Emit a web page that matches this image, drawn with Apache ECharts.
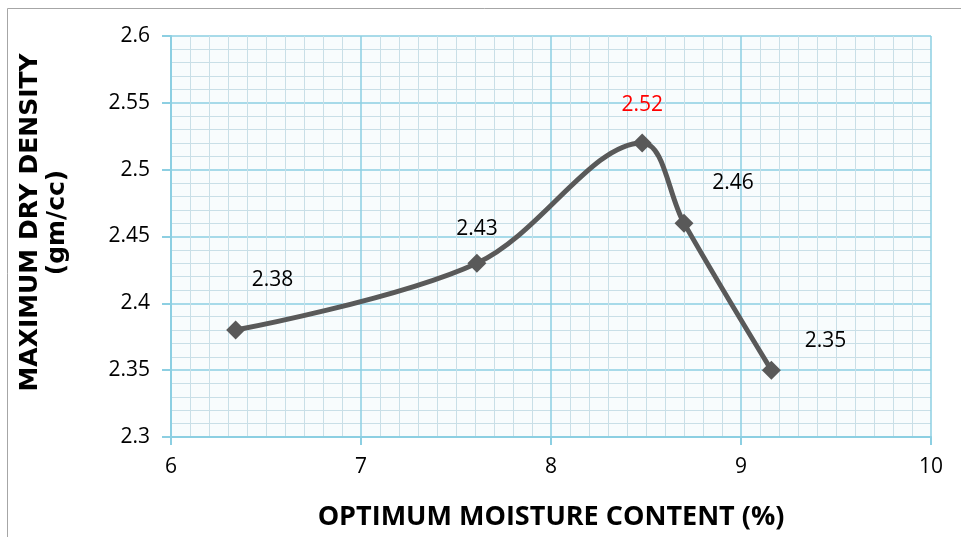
<!DOCTYPE html>
<html>
<head>
<meta charset="utf-8">
<script src="https://cdn.jsdelivr.net/npm/echarts@6/dist/echarts.min.js"></script>
<style>
  html, body { margin: 0; padding: 0; background: #fff; }
  #main { width: 961px; height: 537px; }
</style>
</head>
<body>
<div id="main"></div>
<script>
// moisture content (%) and max dry density (gm/cc)
const moisture = [6.34, 7.61, 8.48, 8.70, 9.16];
const density = [2.38, 2.43, 2.52, 2.46, 2.35];
const labelOffsets = [[37, -50], [0, -34], [0, -38], [49, -40], [54, -29]];
const labelColors = ['#000', '#000', '#ff0000', '#000', '#000'];

const chart = echarts.init(document.getElementById('main'));

const points = moisture.map((x, i) => ({
  value: [x, density[i]],
  label: {
    offset: labelOffsets[i],
    color: labelColors[i]
  }
}));

const option = {
  animation: false,
  textStyle: { fontFamily: 'Open Sans, sans-serif' },
  graphic: [{
    type: 'rect',
    shape: { x: 7.5, y: 8.5, width: 980, height: 560 },
    style: { fill: 'none', stroke: '#a6a6a6', lineWidth: 1 }
  }],
  grid: {
    left: 171, right: 30, top: 36, bottom: 100,
    containLabel: false, outerBoundsMode: 'none',
    show: true, backgroundColor: '#f8fcfd', borderWidth: 0
  },
  xAxis: {
    type: 'value', min: 6, max: 10, interval: 1,
    name: 'OPTIMUM MOISTURE CONTENT (%)',
    nameLocation: 'middle', nameGap: 67,
    nameTextStyle: { fontSize: 27, fontWeight: 'bold', color: '#000' },
    axisLine: { show: true, lineStyle: { color: '#8ccfe2', width: 2 } },
    axisTick: { show: true, length: 8, lineStyle: { color: '#8ccfe2', width: 2 } },
    axisLabel: { fontSize: 21, color: '#000', margin: 20 },
    splitLine: { show: true, lineStyle: { color: '#8ccfe2', width: 1.5 } },
    minorTick: { show: false, splitNumber: 10 },
    minorSplitLine: { show: true, lineStyle: { color: '#c9dfe7', width: 1 } }
  },
  yAxis: {
    type: 'value', min: 2.3, max: 2.6, interval: 0.05,
    name: 'MAXIMUM DRY DENSITY\n(gm/cc)',
    nameLocation: 'middle', nameGap: 100, nameRotate: 90,
    nameTextStyle: {
      fontSize: 25, fontWeight: 'bold', color: '#000', fontFamily: 'DejaVu Sans',
      lineHeight: 27, padding: [0, 0, 0, 28]
    },
    axisLine: { show: true, lineStyle: { color: '#8ccfe2', width: 2 } },
    axisTick: { show: true, length: 9, lineStyle: { color: '#8ccfe2', width: 2 } },
    axisLabel: { fontSize: 21, color: '#000', margin: 21 },
    splitLine: { show: true, lineStyle: { color: '#8ccfe2', width: 1.5 } },
    minorTick: { show: false, splitNumber: 5 },
    minorSplitLine: { show: true, lineStyle: { color: '#c9dfe7', width: 1 } }
  },
  series: [{
    type: 'line',
    data: points,
    smooth: 0.35,
    symbol: 'diamond',
    symbolSize: 19,
    lineStyle: { color: '#595959', width: 5 },
    itemStyle: { color: '#595959' },
    label: { show: true, position: 'inside', fontSize: 21, formatter: p => p.value[1].toFixed(2) }
  }]
};

chart.setOption(option);
</script>
</body>
</html>
